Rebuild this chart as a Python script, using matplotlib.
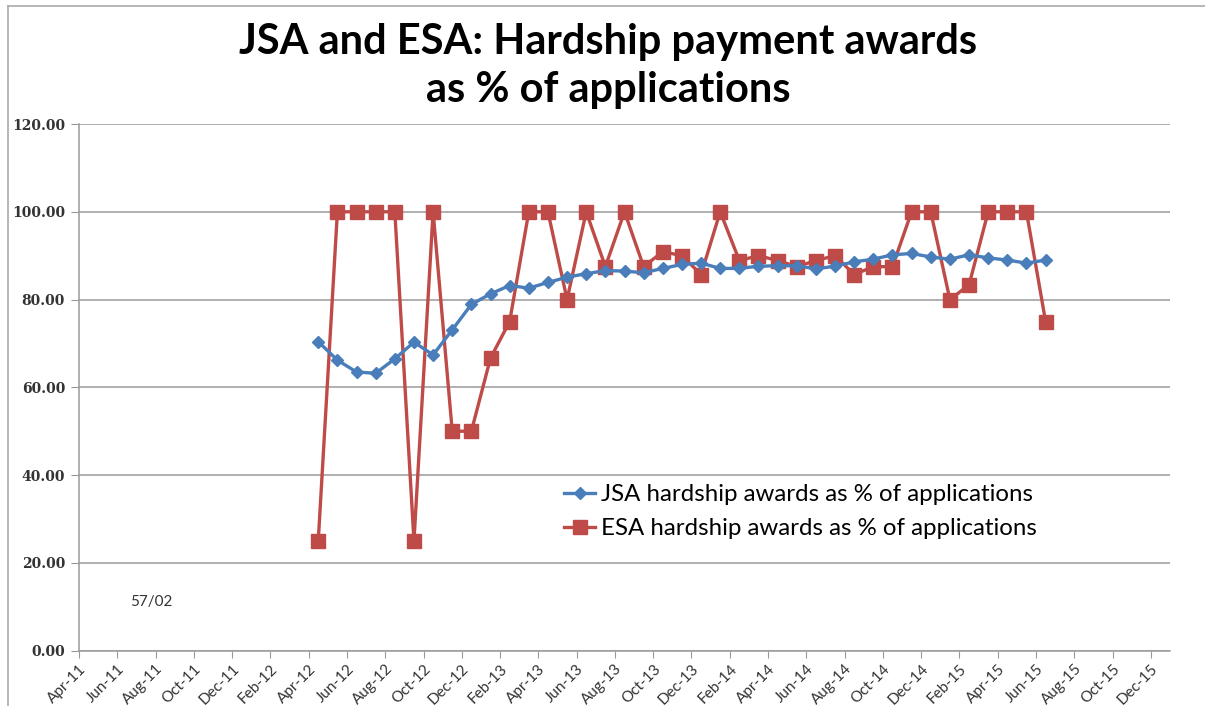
import matplotlib.pyplot as plt
from matplotlib.lines import Line2D

# month labels on the axis, every second month from Apr-11
tick_labels = ["Apr-11", "Jun-11", "Aug-11", "Oct-11", "Dec-11", "Feb-12",
               "Apr-12", "Jun-12", "Aug-12", "Oct-12", "Dec-12", "Feb-13",
               "Apr-13", "Jun-13", "Aug-13", "Oct-13", "Dec-13", "Feb-14",
               "Apr-14", "Jun-14", "Aug-14", "Oct-14", "Dec-14", "Feb-15",
               "Apr-15", "Jun-15", "Aug-15", "Oct-15", "Dec-15"]

# monthly series, Apr-12 to Jun-15 (month 12 to 50 counted from Apr-11)
first_month = 12
jsa = [70.4, 66.2, 63.5, 63.2, 66.5, 70.3, 67.4, 73.1, 78.9, 81.3,
       83.2, 82.6, 83.9, 85.1, 85.9, 86.6, 86.5, 86.1, 87.1, 88.0,
       88.3, 87.1, 87.1, 87.6, 87.7, 87.7, 87.0, 87.6, 88.6, 89.2,
       90.2, 90.5, 89.7, 89.2, 90.2, 89.5, 89.0, 88.3, 89.0]
esa = [25.0, 100.0, 100.0, 100.0, 100.0, 25.0, 100.0, 50.0, 50.0, 66.67,
       75.0, 100.0, 100.0, 80.0, 100.0, 87.5, 100.0, 87.5, 90.91, 90.0,
       85.71, 100.0, 88.89, 90.0, 88.89, 87.5, 88.89, 90.0, 85.71, 87.5,
       87.5, 100.0, 100.0, 80.0, 83.33, 100.0, 100.0, 100.0, 75.0]

W, H = 1205, 706
fig = plt.figure(figsize=(W / 100, H / 100), dpi=100)
fig.patch.set_facecolor("white")

# plot area in pixel terms
left, right, top, bottom = 79, 1170, 124, 650.7
ax = fig.add_axes([left / W, 1 - bottom / H, (right - left) / W, (bottom - top) / H])

x = [first_month + i + 0.5 for i in range(len(jsa))]
blue = "#4A7EBB"
red = "#BE4B48"
ax.plot(x, esa, color=red, lw=2.4, marker="s", ms=10, mec=red, mfc=red, zorder=3)
ax.plot(x, jsa, color=blue, lw=2.4, marker="D", ms=6.5, mec=blue, mfc=blue, zorder=4)

ax.set_xlim(0, 57)
ax.set_ylim(0, 120)
ax.set_yticks(range(0, 121, 20))
ax.set_yticklabels([f"{v:.2f}" for v in range(0, 121, 20)],
                   fontfamily="DejaVu Serif", fontweight="bold", fontsize=10, color="#333333")
ax.set_xticks(range(0, 57, 2))
ax.set_xticklabels(tick_labels, rotation=45, ha="right", rotation_mode="anchor",
                   fontfamily="Lato", fontsize=11, color="#333333")
ax.tick_params(axis="y", length=6, color="#999999", pad=4)
ax.tick_params(axis="x", length=5, color="#999999", pad=3)

ax.grid(axis="y", color="#9a9a9a", lw=1.1)
ax.set_axisbelow(True)
for side in ["top", "right"]:
    ax.spines[side].set_visible(False)
for side in ["left", "bottom"]:
    ax.spines[side].set_color("#9a9a9a")
    ax.spines[side].set_linewidth(1.1)

handles = [Line2D([], [], color=blue, lw=2.4, marker="D", ms=6.5),
           Line2D([], [], color=red, lw=2.4, marker="s", ms=10)]
fig.legend(handles, ["JSA hardship awards as % of applications",
                     "ESA hardship awards as % of applications"],
           loc="upper left", bbox_to_anchor=(564 / W, 1 - 484 / H), frameon=False,
           prop={"family": "Lato", "size": 17.3}, handlelength=1.3,
           handletextpad=0.25, labelspacing=0.55, borderaxespad=0, borderpad=0)

fig.text(608 / W, 1 - 66 / H, "JSA and ESA: Hardship payment awards\nas % of applications",
         ha="center", va="center", fontfamily="Lato", fontweight="bold", fontsize=30,
         linespacing=1.3)
fig.text(130 / W, 1 - 602 / H, "57/02", ha="left", va="center", fontfamily="Lato",
         fontsize=11, color="#333333")

# thin frame round the chart
fig.add_artist(Line2D([8 / W, 1], [1 - 6 / H, 1 - 6 / H], color="#aaaaaa", lw=1.2))
fig.add_artist(Line2D([8 / W, 8 / W], [0, 1 - 6 / H], color="#aaaaaa", lw=1.2))

fig.savefig("out.png", dpi=100)
